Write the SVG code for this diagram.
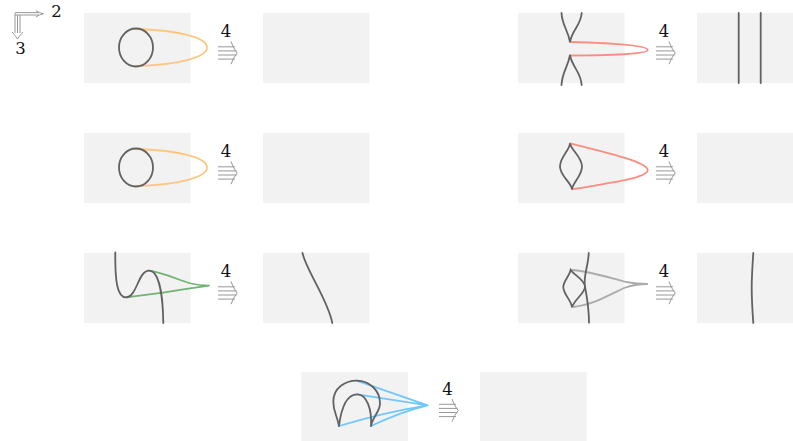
<svg xmlns="http://www.w3.org/2000/svg" width="793" height="441" viewBox="0 0 793 441">
<style>
.p{fill:#f2f2f2}
.c{fill:none;stroke:#626262;stroke-width:1.8;stroke-linecap:round}
.o,.r,.g,.s,.b{fill:none;stroke-width:1.8;stroke-linecap:round;stroke-linejoin:round}
.o{stroke:#fdc67e}.r{stroke:#fb8d80}.g{stroke:#72b272}.s{stroke:#ababab}.b{stroke:#6fc8fb}
.a{fill:none;stroke:#989898;stroke-width:1}
text{font-family:"DejaVu Serif","Liberation Serif",serif;font-size:16.500px;fill:#111;text-anchor:middle}
</style>
<defs>
<g id="arr"><path class="a" d="M218 46.800H235M218 50.900H236.500M218 55H236.500M218 59.100H235M231 41.500Q233 48 237.200 53Q233 58 231 64.200"/></g>
</defs>
<rect x="0" y="0" width="793" height="441" fill="#fff"/>
<g id="axes">
<path class="a" d="M15 12.600H39M15 15H39M36 10.500Q39 13 43.500 13.800Q39 14.600 36 17M15 13.200V33M17.500 15V33M20 15V33M12 32Q15 35 17.500 39Q20 35 23 32"/>
<text x="56.500" y="16.500">2</text><text x="20.500" y="53.500">3</text>
</g>
<g id="panels">
<rect class="p" x="84" y="13" width="106.500" height="70"/><rect class="p" x="263" y="13" width="106.500" height="70"/>
<rect class="p" x="84" y="133" width="106.500" height="70"/><rect class="p" x="263" y="133" width="106.500" height="70"/>
<rect class="p" x="84" y="253" width="106.500" height="70"/><rect class="p" x="263" y="253" width="106.500" height="70"/>
<rect class="p" x="518" y="13" width="106.500" height="70"/><rect class="p" x="697" y="13" width="96" height="70"/>
<rect class="p" x="518" y="133" width="106.500" height="70"/><rect class="p" x="697" y="133" width="96" height="70"/>
<rect class="p" x="518" y="253" width="106.500" height="70"/><rect class="p" x="697" y="253" width="96" height="70"/>
<rect class="p" x="301.500" y="372" width="106.500" height="69"/><rect class="p" x="480" y="372" width="106.500" height="69"/>
</g>
<g id="connectors">
<path class="o" d="M136 29C175 30 207 37 207 47.500C207 58 175 65 136 66"/>
<path class="o" d="M136 149C175 150 207 157 207 167.500C207 178 175 185 136 186"/>
<path class="g" d="M149 270.700C165 273 178 280 191 283.500Q199 285.500 209 285.700Q185 289 163 292.700Q145 295 126 297.300"/>
<path class="r" d="M570 42C610 43 647.700 45 647.700 50C647.700 54 610 55.500 570 55.500"/>
<path class="r" d="M570 143.300C605 152 647.700 162 647.700 170C647.700 178 610 183 572 189.300"/>
<path class="s" d="M570.700 270C590 271 610 278 626 282Q637 284 647.300 284Q635 284 624 288C605 297 590 306 572 307"/>
<path class="b" d="M356.700 380.700L427.700 405.300Q385 412 339 426M357.300 394.300L427.700 405.300Q400 412 371 426"/>
<use href="#arr"/><use href="#arr" y="120"/><use href="#arr" y="240"/>
<use href="#arr" x="438"/><use href="#arr" x="438" y="120"/><use href="#arr" x="438" y="240"/>
<use href="#arr" x="221" y="357.500"/>
</g>
<g id="n1"><ellipse class="c" cx="136" cy="47.500" rx="17" ry="19"/><text x="226" y="37">4</text></g>
<g id="n2"><ellipse class="c" cx="136" cy="167.500" rx="17" ry="19"/><text x="226" y="157">4</text></g>
<g id="n3"><path class="c" d="M115.300 252.500C115 280 117 297.300 126 297.300C137 297.300 138 270.700 149 270.700C160 270.700 163 300 163.300 323"/><text x="226" y="277">4</text>
<path class="c" d="M302.500 253C306 270 328 300 332.300 323"/></g>
<g id="n4"><path class="c" d="M561.500 13C562 25 568 30 570 42C572 30 581 25 581.700 13M561.500 85C562 72 568 67 570 55C572 67 581 72 581.700 85"/><text x="664" y="37">4</text>
<path class="c" d="M738.700 13V83M760.700 13V83"/></g>
<g id="n5"><path class="c" d="M570 143.300C570 150 560 157 560 166.500C560 176 571 182 572 189.300C573 182 582 176 582 166.500C582 157 571 150 570 143.300Z"/><text x="664" y="157">4</text></g>
<g id="n6"><path class="c" d="M588.700 253C588.500 265 583 277 585 286.700C587 297 589 310 589 322.700"/>
<path class="c" d="M570.700 270C569 277 563.300 281 563.300 287C563.300 294 571 300 572 307C575 299 585 293 585 286.700C585 280 574 275 570.700 270Z"/><text x="664" y="277">4</text>
<path class="c" d="M753.300 253C752.500 265 751.700 278 751.700 287C751.700 298 752.500 312 753.300 323"/></g>
<g id="n7"><path class="c" d="M339 426C337 415 333.300 412 333.300 401.700C333.300 388 345 380.700 356.700 380.700C369 380.700 380 390 380 403.300C380 412 373 416 371 426M339 426C341 410 346 394.300 357.300 394.300C367 394.300 372 410 371 426"/><text x="447.500" y="394.500">4</text></g>
</svg>
